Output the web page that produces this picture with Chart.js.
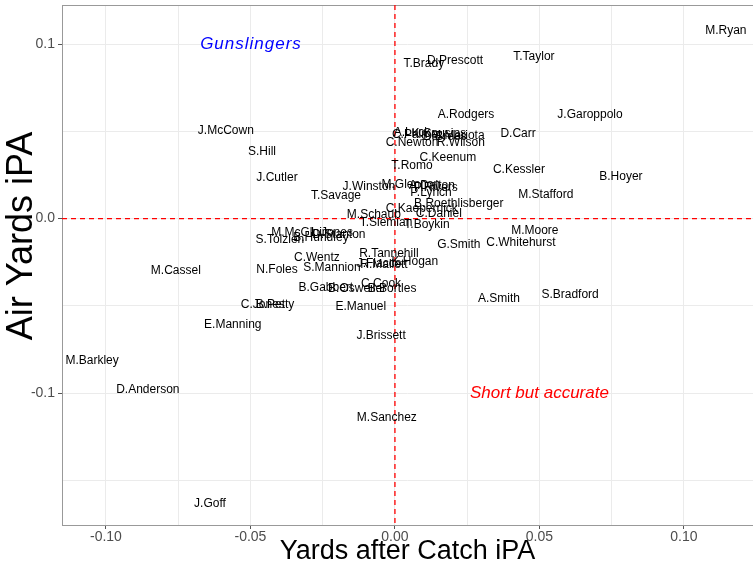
<!DOCTYPE html>
<html>
<head>
<meta charset="utf-8">
<script src="https://cdn.jsdelivr.net/npm/chart.js@4/dist/chart.umd.min.js"></script>
<style>
html, body { margin: 0; padding: 0; background: #fff; }
#wrap { width: 753px; height: 568px; }
</style>
</head>
<body>
<div id="wrap"><canvas id="qbChart"></canvas></div>
<script>
// QB names and their iPA values (x = yards after catch, y = air yards)
const players = [
    'M.Ryan', 'T.Taylor', 'D.Prescott', 'T.Brady', 'A.Rodgers', 'J.Garoppolo', 'D.Carr',
    'J.McCown', 'S.Hill', 'J.Cutler', 'T.Savage', 'J.Winston',
    'A.Luck', 'C.Palmer', 'K.Cousins', 'D.Brees', 'M.Mariota', 'C.Newton', 'R.Wilson',
    'C.Keenum', 'T.Romo', 'C.Kessler', 'B.Hoyer', 'M.Stafford',
    'M.Glennon', 'A.Dalton', 'P.Rivers', 'P.Lynch', 'B.Roethlisberger', 'C.Kaepernick', 'C.Daniel',
    'M.Schaub', 'T.Siemian', 'T.Boykin', 'M.Moore', 'G.Smith', 'C.Whitehurst',
    'M.McGloin', 'L.Jones', 'D.Stanton', 'B.Hundley', 'S.Tolzien',
    'C.Wentz', 'N.Foles', 'S.Mannion', 'M.Cassel', 'R.Tannehill', 'J.Flacco', 'R.Mallett', 'K.Hogan',
    'B.Gabbert', 'B.Osweiler', 'C.Cook', 'B.Bortles', 'C.Jones', 'B.Petty', 'E.Manuel',
    'A.Smith', 'S.Bradford', 'E.Manning', 'J.Brissett', 'M.Barkley', 'D.Anderson', 'M.Sanchez', 'J.Goff'
];
const yacIPA = [
    0.1145, 0.0481, 0.0208, 0.0100, 0.0246, 0.0675, 0.0426,
    -0.0585, -0.0460, -0.0408, -0.0204, -0.0090,
    0.0059, 0.0076, 0.0152, 0.0173, 0.0218, 0.0059, 0.0228,
    0.0183, 0.0059, 0.0429, 0.0782, 0.0522,
    0.0055, 0.0128, 0.0142, 0.0125, 0.0221, 0.0093, 0.0152,
    -0.0073, -0.0031, 0.0111, 0.0484, 0.0221, 0.0436,
    -0.0329, -0.0218, -0.0194, -0.0256, -0.0398,
    -0.0270, -0.0408, -0.0218, -0.0758, -0.0021, -0.0055, -0.0038, 0.0069,
    -0.0239, -0.0131, -0.0048, -0.0010, -0.0457, -0.0415, -0.0118,
    0.0360, 0.0606, -0.0561, -0.0048, -0.1048, -0.0855, -0.0028, -0.0640
];
const airIPA = [
    0.1077, 0.0928, 0.0905, 0.0888, 0.0596, 0.0596, 0.0487,
    0.0504, 0.0384, 0.0235, 0.0132, 0.0183,
    0.0493, 0.0481, 0.0487, 0.0470, 0.0476, 0.0436, 0.0436,
    0.0350, 0.0304, 0.0281, 0.0241, 0.0138,
    0.0195, 0.0189, 0.0178, 0.0149, 0.0086, 0.0057, 0.0029,
    0.0023, -0.0023, -0.0034, -0.0069, -0.0149, -0.0138,
    -0.0080, -0.0080, -0.0092, -0.0109, -0.0120,
    -0.0223, -0.0292, -0.0281, -0.0298, -0.0201, -0.0258, -0.0264, -0.0246,
    -0.0395, -0.0401, -0.0372, -0.0401, -0.0493, -0.0493, -0.0504,
    -0.0458, -0.0436, -0.0607, -0.0670, -0.0814, -0.0980, -0.1140, -0.1633
];

// grid breaks (labels only on the major ones)
const xBreaks = [-0.1, -0.075, -0.05, -0.025, 0, 0.025, 0.05, 0.075, 0.1];
const xLabelled = [-0.1, -0.05, 0, 0.05, 0.1];
const yBreaks = [-0.15, -0.1, -0.05, 0, 0.05, 0.1];
const yLabelled = [-0.1, 0, 0.1];

// quadrant notes
const notes = [
    { text: 'Gunslingers', x: -0.0498, y: 0.1, color: '#0000ff', spacing: '1px' },
    { text: 'Short but accurate', x: 0.05, y: -0.1, color: '#ff0000', spacing: '0px' }
];

const FONT = '"Liberation Sans", Arial, sans-serif';
const isLabelled = (list, v) => list.some(b => Math.abs(b - v) < 1e-9);

const points = players.map((name, i) => ({ x: yacIPA[i], y: airIPA[i], name }));

const qbPlugin = {
    id: 'qbLabels',
    beforeDatasetsDraw(chart) {
        const { ctx, chartArea: a, scales } = chart;
        ctx.save();
        // panel border
        ctx.strokeStyle = '#999999';
        ctx.lineWidth = 1;
        ctx.strokeRect(a.left + 0.5, a.top + 0.5, a.right - a.left + 2, a.bottom - a.top);
        // dashed zero lines
        ctx.strokeStyle = '#ff0000';
        ctx.lineWidth = 1.3;
        ctx.setLineDash([5, 4]);
        const x0 = scales.x.getPixelForValue(0);
        const y0 = scales.y.getPixelForValue(0);
        ctx.beginPath();
        ctx.moveTo(x0, a.top);
        ctx.lineTo(x0, a.bottom);
        ctx.stroke();
        ctx.beginPath();
        ctx.moveTo(a.left, y0);
        ctx.lineTo(a.right, y0);
        ctx.stroke();
        ctx.restore();
    },
    afterDatasetsDraw(chart) {
        const { ctx, scales } = chart;
        ctx.save();
        ctx.textAlign = 'center';
        ctx.textBaseline = 'middle';
        ctx.font = '12px ' + FONT;
        ctx.fillStyle = '#000';
        chart.getDatasetMeta(0).data.forEach((el, i) => {
            ctx.fillText(players[i], el.x, el.y);
        });
        ctx.font = 'italic 17px ' + FONT;
        notes.forEach(n => {
            ctx.fillStyle = n.color;
            ctx.letterSpacing = n.spacing;
            ctx.fillText(n.text, scales.x.getPixelForValue(n.x), scales.y.getPixelForValue(n.y));
        });
        ctx.restore();
    },
    afterDraw(chart) {
        // y axis title, placed as in the original
        const { ctx } = chart;
        ctx.save();
        ctx.translate(22, 236);
        ctx.rotate(-Math.PI / 2);
        ctx.textAlign = 'center';
        ctx.textBaseline = 'middle';
        ctx.font = '36px ' + FONT;
        ctx.fillStyle = '#000';
        ctx.fillText('Air Yards iPA', 0, 0);
        ctx.restore();
    }
};

new Chart(document.getElementById('qbChart'), {
    type: 'scatter',
    data: {
        datasets: [{
            data: points,
            pointRadius: 0,
            pointHoverRadius: 0
        }]
    },
    options: {
        responsive: true,
        maintainAspectRatio: false,
        animation: false,
        layout: { padding: { top: 5, right: 0, left: 0, bottom: 0 } },
        plugins: {
            legend: { display: false },
            tooltip: { enabled: false }
        },
        scales: {
            x: {
                type: 'linear',
                min: -0.1152,
                max: 0.1239,
                afterBuildTicks: s => { s.ticks = xBreaks.map(v => ({ value: v })); },
                afterFit: s => { s.height = 43; s.paddingLeft = 0; s.paddingRight = 0; },
                border: { display: false },
                grid: {
                    color: '#ebebeb',
                    tickLength: 4,
                    tickColor: c => isLabelled(xLabelled, c.tick.value) ? '#555' : 'rgba(0,0,0,0)'
                },
                ticks: {
                    autoSkip: false,
                    maxRotation: 0,
                    padding: 0,
                    color: '#4d4d4d',
                    font: { family: FONT, size: 14 },
                    callback: v => isLabelled(xLabelled, v) ? v.toFixed(2) : ''
                },
                title: {
                    display: true,
                    text: 'Yards after Catch iPA',
                    color: '#000',
                    font: { family: FONT, size: 27 },
                    padding: { top: 0, bottom: 0 }
                }
            },
            y: {
                type: 'linear',
                min: -0.1756,
                max: 0.1224,
                afterBuildTicks: s => { s.ticks = yBreaks.map(v => ({ value: v })); },
                afterFit: s => { s.width = 62; s.paddingTop = 0; s.paddingBottom = 0; },
                border: { display: false },
                grid: {
                    color: '#ebebeb',
                    tickLength: 4,
                    tickColor: c => isLabelled(yLabelled, c.tick.value) ? '#555' : 'rgba(0,0,0,0)'
                },
                ticks: {
                    autoSkip: false,
                    padding: 3,
                    color: '#4d4d4d',
                    font: { family: FONT, size: 14 },
                    callback: v => isLabelled(yLabelled, v) ? v.toFixed(1) : ''
                },
                title: { display: false }
            }
        }
    },
    plugins: [qbPlugin]
});
</script>
</body>
</html>
